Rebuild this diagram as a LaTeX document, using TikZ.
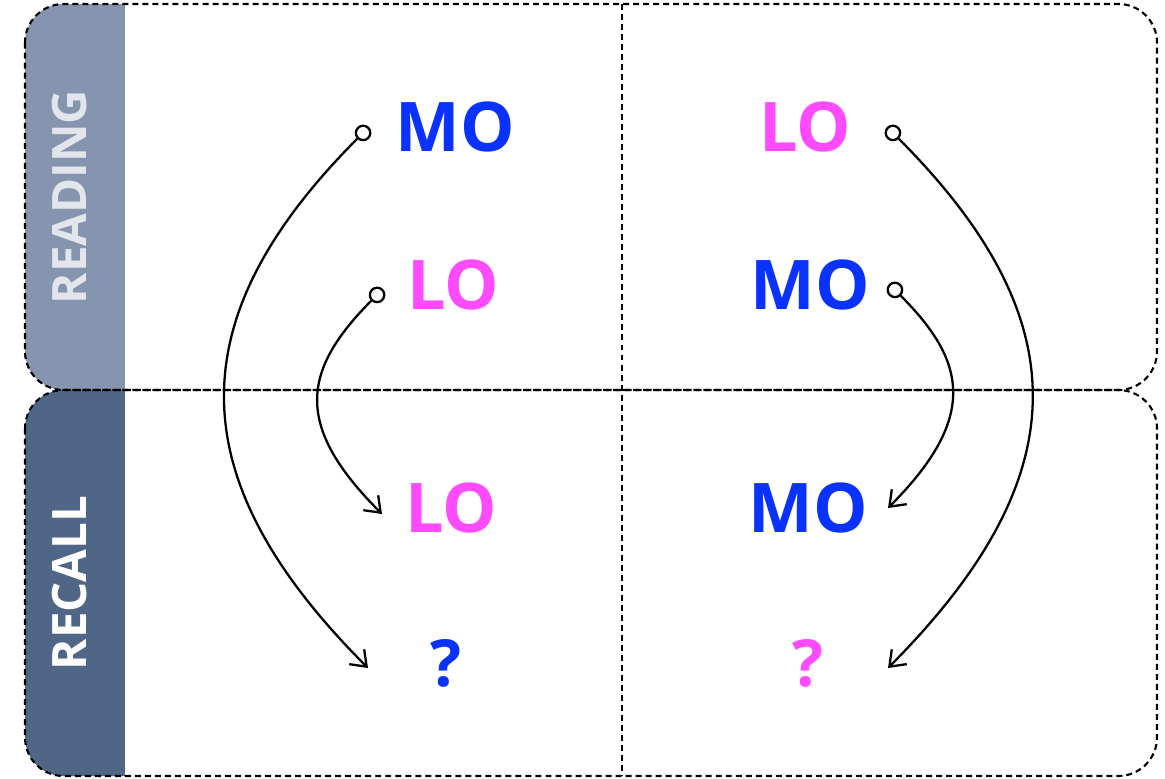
\documentclass[tikz,border=0pt]{standalone}
\usepackage{fontspec}
\setmainfont{Open Sans}
\usetikzlibrary{arrows.meta}
\definecolor{moblue}{RGB}{10,50,255}
\definecolor{lopink}{RGB}{255,75,255}
\definecolor{readband}{RGB}{133,149,175}
\definecolor{recallband}{RGB}{79,102,134}
\definecolor{bandtext}{RGB}{226,230,236}
\tikzset{
  panel/.style={draw=black, line width=1.2pt, dash pattern=on 3.4pt off 2.3pt, rounded corners=22pt},
  divider/.style={draw=black, line width=1.2pt, dash pattern=on 3.4pt off 2.3pt},
  word/.style={font=\fontsize{39}{39}\selectfont\bfseries, inner sep=0pt, anchor=center},
  qmark/.style={font=\fontsize{37}{37}\selectfont\bfseries, inner sep=0pt},
  bandlabel/.style={font=\fontsize{27}{27}\selectfont\bfseries, rotate=90, inner sep=0pt},
  link/.style={draw=black, line width=1.3pt, {Circle[open,length=9.5pt,width=9.5pt,line width=1.3pt]}-{Straight Barb[length=8pt,width=12pt,line width=1.3pt]}}
}
\begin{document}
\begin{tikzpicture}[x=0.02cm,y=-0.02cm]
\useasboundingbox (0,0) rectangle (1165,778);
% band fills
\begin{scope}
  \clip[rounded corners=22pt] (25,4) rectangle (1157,390);
  \fill[readband] (0,0) rectangle (125,395);
\end{scope}
\begin{scope}
  \clip[rounded corners=22pt] (25,390) rectangle (1157,776);
  \fill[recallband] (0,385) rectangle (125,778);
\end{scope}
% panels
\path[panel] (25,4) rectangle (1157,390);
\path[panel] (25,390) rectangle (1157,776);
\coordinate (dtop) at (622,4);
\coordinate (dbot) at (622,776);
\path[divider] (dtop) -- (dbot);
% band labels
\node[bandlabel, text=bandtext] (reading) at (70,197) {READING};
\node[bandlabel, text=white] (recall) at (70,583) {RECALL};
% words
\node[word, text=moblue] (mo1) at (455,127) {MO};
\node[word, text=lopink] (lo1) at (805,127) {LO};
\node[word, text=lopink] (lo2) at (453,285) {LO};
\node[word, text=moblue] (mo2) at (810,285) {MO};
\node[word, text=lopink] (lo3) at (451,508) {LO};
\node[word, text=moblue] (mo3) at (808,508) {MO};
\node[qmark, text=moblue] (q1) at (446,663) {?};
\node[qmark, text=lopink] (q2) at (808,663) {?};
% connector ends
\coordinate (s1) at (369,127);
\coordinate (e1) at (368,668);
\coordinate (s2) at (383,289);
\coordinate (e2) at (382,514);
\coordinate (s3) at (887,127);
\coordinate (e3) at (888,668);
\coordinate (s4) at (889,284);
\coordinate (e4) at (888,508);
\draw[link] (s1) .. controls (176,320) and (180,480) .. (e1);
\draw[link] (s2) .. controls (301,371) and (294,426) .. (e2);
\draw[link] (s3) .. controls (1081,321) and (1077,478) .. (e3);
\draw[link] (s4) .. controls (964,359) and (981,415) .. (e4);
\end{tikzpicture}
\end{document}
